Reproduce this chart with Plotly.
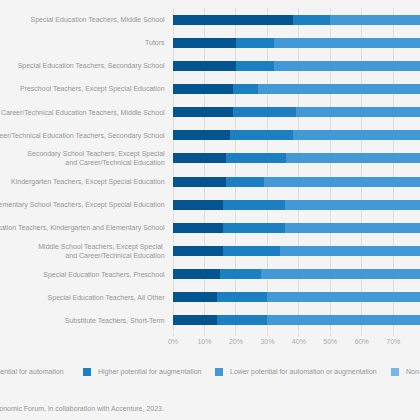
"""
Teaching occupations: share of work time by AI exposure category
"""

import plotly.graph_objects as go

# Occupations, top to bottom
occupations = [
    'Special Education Teachers, Middle School',
    'Tutors',
    'Special Education Teachers, Secondary School',
    'Preschool Teachers, Except Special Education',
    'Career/Technical Education Teachers, Middle School',
    'Career/Technical Education Teachers, Secondary School',
    'Secondary School Teachers, Except Special<br>and Career/Technical Education',
    'Kindergarten Teachers, Except Special Education',
    'Elementary School Teachers, Except Special Education',
    'Special Education Teachers, Kindergarten and Elementary School',
    'Middle School Teachers, Except Special <br>and Career/Technical Education',
    'Special Education Teachers, Preschool',
    'Special Education Teachers, All Other',
    'Substitute Teachers, Short-Term',
]

# Share of tasks (%) per category
higher_automation = [38, 20, 20, 19, 19, 18, 17, 17, 16, 16, 16, 15, 14, 14]
higher_augmentation = [12, 12, 12, 8, 20, 20, 19, 12, 19.5, 19.5, 18, 13, 16, 16]
lower_potential = [38, 56, 56, 61, 45, 46, 47, 56, 49, 49, 50, 57, 55, 56]
non_language = [12, 12, 12, 12, 16, 16, 17, 15, 15.5, 15.5, 16, 15, 15, 14]

series_names = [
    'Higher potential for automation',
    'Higher potential for augmentation',
    'Lower potential for automation or augmentation',
    'Non-language tasks',
]
colors = ['#04558F', '#1B7FC2', '#4399D5', '#76B5E6']

BG = '#F4F4F4'
TEXT = '#969696'
FONT = 'Liberation Sans, Arial, sans-serif'

fig = go.Figure()
for name, vals, col in zip(series_names,
                           [higher_automation, higher_augmentation, lower_potential, non_language],
                           colors):
    fig.add_trace(go.Bar(
        x=vals,
        y=occupations,
        orientation='h',
        name=name,
        marker=dict(color=col, line=dict(width=0)),
        hoverinfo='x+name',
    ))

# figure geometry in pixels (body margin is removed below)
W, H = 420, 420
L, R, T, B = 173, 0, 8, 88
pw, ph = W - L - R, H - T - B


def px_x(p):
    # window pixel -> paper x
    return (p - L) / pw


def px_y(p):
    # window pixel -> paper y
    return (H - B - p) / ph


# hand-made legend (the real one sits partly off the page)
legend_y = px_y(372)
swatch_left = [-60, 83, 215, 391]
text_pos = [(66, 'right'), (96, 'left'), (228, 'left'), (404, 'left')]
for name, col, sx, (tx, anchor) in zip(series_names, colors, swatch_left, text_pos):
    if sx > 0:
        fig.add_shape(type='rect', xref='paper', yref='paper',
                      x0=px_x(sx), x1=px_x(sx + 8),
                      y0=px_y(376), y1=px_y(368),
                      fillcolor=col, line=dict(width=0))
    fig.add_annotation(text=name, xref='paper', yref='paper',
                       x=px_x(tx), y=legend_y, xanchor=anchor, yanchor='middle',
                       showarrow=False, font=dict(size=7, color=TEXT, family=FONT))

fig.add_annotation(text='Source: World Economic Forum, in collaboration with Accenture, 2023.',
                   xref='paper', yref='paper', x=px_x(166), y=px_y(408),
                   xanchor='right', yanchor='middle', showarrow=False,
                   font=dict(size=7, color=TEXT, family=FONT))

fig.update_layout(
    barmode='stack',
    bargap=0.57,
    width=W, height=H,
    paper_bgcolor=BG,
    plot_bgcolor=BG,
    showlegend=False,
    margin=dict(l=L, r=R, t=T, b=B, autoexpand=False),
    font=dict(family=FONT, size=7, color=TEXT),
)

fig.update_xaxes(
    range=[0, 78.5],
    dtick=10,
    ticksuffix='%',
    showgrid=True, gridcolor='#DDDDDD', gridwidth=1,
    zeroline=True, zerolinecolor='#DDDDDD', zerolinewidth=1,
    ticks='outside', ticklen=3, tickcolor='#DDDDDD',
    tickfont=dict(size=7, color='#ABABAB'),
    fixedrange=True,
)
fig.update_yaxes(
    autorange=False,
    range=[len(occupations) - 0.5, -0.5],
    showgrid=False,
    ticks='outside', ticklen=6, tickcolor=BG,
    tickfont=dict(size=7, color=TEXT),
    automargin=False,
    fixedrange=True,
)

fig.write_html("out.html",
               config={'displayModeBar': False, 'staticPlot': True},
               post_script="document.body.style.margin='0';"
               "document.body.style.overflow='hidden';"
               "document.body.style.background='#F4F4F4';")
